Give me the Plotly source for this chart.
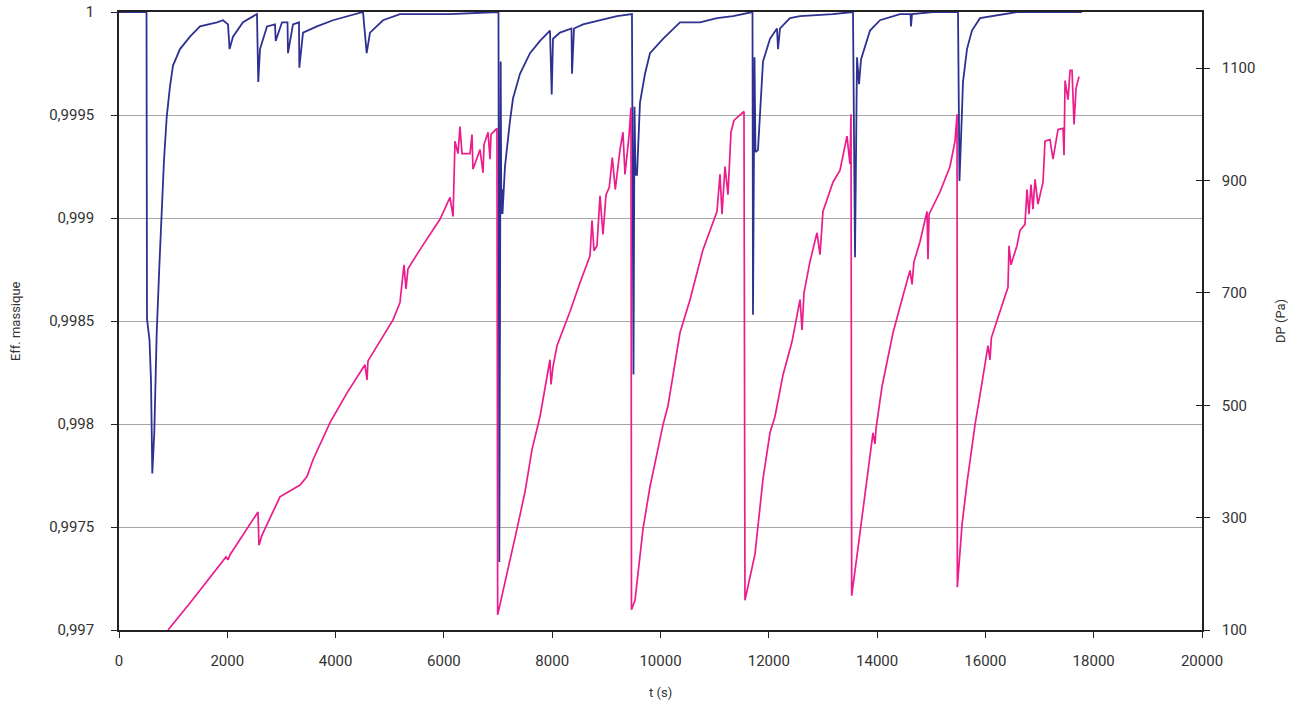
import plotly.graph_objects as go

# --- data ---
t_eff = [0, 508, 517, 563, 591, 615, 652, 696, 744, 789, 831, 881, 942, 997, 1126, 1311, 1496, 1810, 1921,
         2013, 2042, 2105, 2290, 2548, 2572, 2604, 2733, 2881, 2894, 3010, 3112, 3121, 3213, 3324, 3330,
         3398, 3656, 3952, 4506, 4574, 4635, 4875, 5189, 6113, 6667, 6990, 7008, 7023, 7036, 7049, 7060,
         7073, 7082, 7128, 7220, 7276, 7405, 7590, 7775, 7959, 7991, 8015, 8144, 8356, 8366, 8403, 8569,
         8883, 9196, 9473, 9501, 9520, 9538, 9566, 9621, 9714, 9806, 10046, 10360, 10729, 11043, 11339,
         11653, 11699, 11708, 11736, 11754, 11800, 11893, 12022, 12151, 12170, 12207, 12392, 12577, 13185,
         13555, 13592, 13629, 13666, 13703, 13740, 13869, 14053, 14423, 14617, 14626, 14645, 15032, 15494,
         15521, 15568, 15586, 15660, 15752, 15900, 16140, 16583, 17783]
eff = [1.0, 1.0, 0.99851, 0.99841, 0.99821, 0.99776, 0.99796, 0.99844, 0.99876, 0.99906, 0.99928, 0.99949,
       0.99964, 0.99974, 0.99982, 0.99988, 0.99993, 0.99995, 0.99996, 0.99994, 0.99982, 0.99988, 0.99995,
       0.99999, 0.99966, 0.99982, 0.99993, 0.99994, 0.99986, 0.99995, 0.99995, 0.99980, 0.99994, 0.99995,
       0.99973, 0.99990, 0.99993, 0.99996, 1.0, 0.99980, 0.99990, 0.99996, 0.99999, 0.99999, 0.999996,
       1.0, 1.0, 0.99733, 0.99933, 0.99976, 0.99902, 0.99914, 0.99902, 0.99925, 0.99947, 0.99958, 0.99970,
       0.99980, 0.99986, 0.99991, 0.99960, 0.99987, 0.99990, 0.99992, 0.99970, 0.99992, 0.99994, 0.99996,
       0.99998, 0.99999, 0.99824, 0.99954, 0.99921, 0.99921, 0.99956, 0.99970, 0.99980, 0.99987, 0.99995,
       0.99995, 0.99997, 0.99998, 1.0, 1.0, 0.99853, 0.99978, 0.99932, 0.99933, 0.99976, 0.99987, 0.99992,
       0.99982, 0.99992, 0.99997, 0.99998, 0.99999, 1.0, 0.99881, 0.99978, 0.99965, 0.99977, 0.99980,
       0.99991, 0.99996, 0.99999, 0.99999, 0.99993, 0.99999, 1.0, 1.0, 0.99918, 0.99952, 0.99966, 0.99982,
       0.99991, 0.99997, 0.99998, 1.0, 1.0]

t_dp = [905, 1311, 1976, 2013, 2050, 2567, 2585, 2641, 2973, 3343, 3472, 3583, 3897, 4211, 4543, 4580, 4598,
        4875, 5060, 5189, 5263, 5300, 5337, 5558, 5928, 6113, 6169, 6205, 6260, 6297, 6334, 6482, 6519, 6537,
        6667, 6722, 6741, 6815, 6852, 6870, 6980, 6993, 7091, 7257, 7350, 7498, 7627, 7775, 7904, 7959, 7978,
        8015, 8089, 8329, 8513, 8698, 8735, 8772, 8827, 8883, 8938, 8994, 9054, 9110, 9165, 9252, 9307, 9344,
        9418, 9455, 9464, 9529, 9677, 9806, 9935, 10046, 10138, 10360, 10545, 10785, 11043, 11099, 11136,
        11191, 11246, 11302, 11357, 11542, 11560, 11745, 11893, 12022, 12114, 12262, 12428, 12577, 12614,
        12650, 12761, 12890, 12946, 13000, 13185, 13314, 13444, 13499, 13518, 13531, 13684, 13814, 13924,
        13961, 13980, 14090, 14294, 14478, 14608, 14645, 14680, 14792, 14922, 14940, 14960, 15163, 15346,
        15439, 15476, 15482, 15568, 15660, 15808, 15937, 16048, 16085, 16110, 16214, 16417, 16436, 16472,
        16583, 16638, 16731, 16768, 16805, 16842, 16879, 16916, 16971, 17064, 17101, 17193, 17249, 17341,
        17434, 17452, 17471, 17526, 17563, 17600, 17637, 17674, 17729]
dp = [100, 148, 230, 225, 234, 310, 251, 269, 337, 358, 373, 403, 469, 522, 572, 545, 579,
      622, 652, 683, 750, 707, 743, 777, 831, 870, 836, 970, 948, 996, 948, 948, 982, 920,
      955, 914, 964, 986, 938, 982, 993, 127, 168, 243, 280, 346, 421, 480, 554, 581, 537,
      569, 606, 667, 718, 766, 829, 775, 784, 873, 804, 875, 888, 941, 884, 955, 986, 911,
      979, 1030, 136, 153, 280, 355, 414, 465, 499, 629, 688, 777, 845, 911, 840,
      925, 875, 986, 1007, 1023, 153, 235, 369, 451, 480, 554, 613, 688, 634,
      700, 756, 807, 768, 845, 897, 918, 979, 929, 1018, 161, 273, 369, 451,
      431, 458, 533, 629, 695, 740, 715, 755, 791, 845, 760, 840, 880, 925,
      970, 1018, 176, 287, 362, 465, 540, 606, 581, 620, 651, 710, 784, 750,
      784, 811, 822, 884, 840, 893, 849, 902, 858, 897, 970, 973, 938, 991,
      993, 945, 1078, 1044, 1096, 1096, 1000, 1064, 1085]

x_ticks = [0, 2000, 4000, 6000, 8000, 10000, 12000, 14000, 16000, 18000, 20000]
eff_ticks = [0.997, 0.9975, 0.998, 0.9985, 0.999, 0.9995, 1.0]
eff_labels = ["0,997", "0,9975", "0,998", "0,9985", "0,999", "0,9995", "1"]
dp_ticks = [100, 300, 500, 700, 900, 1100]

BLUE = "#2E3192"
PINK = "#EC1C8C"
TXT = "#333333"
FONT = "Roboto"

fig = go.Figure()
fig.add_trace(go.Scatter(x=t_eff, y=eff, mode="lines", line=dict(color=BLUE, width=1.8),
                         yaxis="y", name="Eff. massique"))
fig.add_trace(go.Scatter(x=t_dp, y=dp, mode="lines", line=dict(color=PINK, width=1.7),
                         yaxis="y2", name="DP (Pa)"))
# invisible trace so the inner tick marks of the right axis render
fig.add_trace(go.Scatter(x=[None], y=[None], yaxis="y3", showlegend=False, hoverinfo="skip"))

fig.update_layout(
    width=1296, height=704,
    margin=dict(l=119, r=94, t=12, b=74, autoexpand=False),
    paper_bgcolor="white", plot_bgcolor="white",
    showlegend=False,
    font=dict(family=FONT, size=15, color=TXT),
    xaxis=dict(range=[0, 20000], tickvals=x_ticks, ticktext=[str(v) for v in x_ticks],
               showline=True, linecolor="#222", linewidth=1.5, mirror=True,
               ticks="outside", ticklen=6, tickcolor="#222", tickwidth=1.2,
               showgrid=False, zeroline=False, ticklabelstandoff=10),
    yaxis=dict(range=[0.997, 1.0], tickvals=eff_ticks, ticktext=eff_labels,
               showline=True, linecolor="#222", linewidth=1.5,
               ticks="outside", ticklen=6, tickcolor="#222", tickwidth=1.2,
               showgrid=True, gridcolor="#a6a6a6", gridwidth=1.3, zeroline=False,
               ticklabelstandoff=14),
    yaxis2=dict(range=[100, 1200], tickvals=dp_ticks, ticktext=[str(v) for v in dp_ticks],
                overlaying="y", side="right", anchor="x",
                showline=True, linecolor="#222", linewidth=1.5,
                ticks="outside", ticklen=6, tickcolor="#222", tickwidth=1.2,
                showgrid=False, zeroline=False, ticklabelstandoff=9),
    yaxis3=dict(range=[100, 1200], tickvals=dp_ticks, overlaying="y", side="right", anchor="x",
                showline=False, ticks="inside", ticklen=6, tickcolor="#222", tickwidth=1.2,
                showticklabels=False, showgrid=False, zeroline=False),
    annotations=[
        dict(text="Eff. massique", xref="paper", yref="paper", x=0, y=0.5, xshift=-104,
             textangle=-90, showarrow=False, xanchor="center", yanchor="middle",
             font=dict(family=FONT, size=13, color=TXT)),
        dict(text="DP (Pa)", xref="paper", yref="paper", x=1, y=0.5, xshift=78,
             textangle=-90, showarrow=False, xanchor="center", yanchor="middle",
             font=dict(family=FONT, size=13, color=TXT)),
        dict(text="t (s)", xref="paper", yref="paper", x=0.5, y=0, yshift=-62,
             showarrow=False, xanchor="center", yanchor="middle",
             font=dict(family=FONT, size=13, color=TXT)),
    ],
)

# remove the default 8px page margin so the figure sits at the window's top-left corner
fig.write_html("out.html", config={"displayModeBar": False},
               post_script="document.body.style.margin='0';")
